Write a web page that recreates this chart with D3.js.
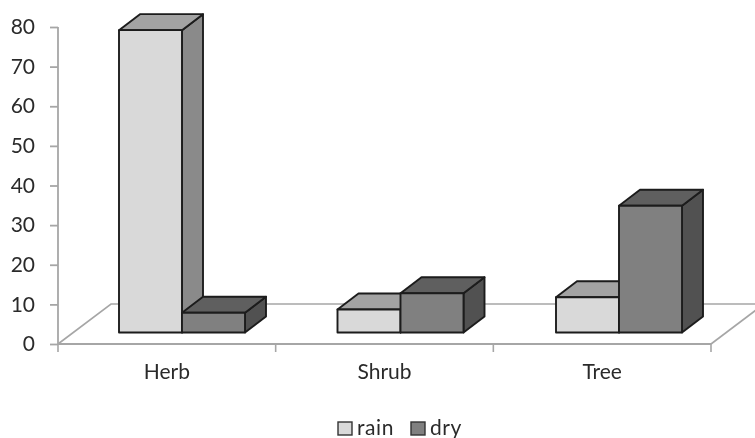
<!DOCTYPE html>
<html>
<head>
<meta charset="utf-8">
<script src="https://cdn.jsdelivr.net/npm/d3@7"></script>
<style>
    html, body { margin: 0; padding: 0; background: #fff; }
    svg { display: block; }
    text { font-family: Lato, "Open Sans", sans-serif; fill: #2b2b2b; }
</style>
</head>
<body>
<div id="chart"></div>
<script>
const categories = ["Herb", "Shrub", "Tree"];
const seriesNames = ["rain", "dry"];
const rain = [76.3, 5.8, 8.9];
const dry = [5, 9.9, 32];
const yTicks = [0, 10, 20, 30, 40, 50, 60, 70, 80];

const chartWidth = 755,
    chartHeight = 438;

const axisLeft = 58, axisRight = 711, axisBottom = 344, axisTop = 27;
const floorDx = 53, floorDy = -40;
const barDx = 21, barDy = -16;
const barBase = 332.5;

const colors = {
    rain: { front: "#d9d9d9", top: "#a3a3a3", side: "#8a8a8a" },
    dry: { front: "#808080", top: "#5f5f5f", side: "#515151" }
};

const svg = d3.select("#chart")
    .append("svg")
    .attr("width", chartWidth)
    .attr("height", chartHeight);

const soft = svg.append("defs").append("filter").attr("id", "soft");
soft.append("feGaussianBlur").attr("stdDeviation", 0.45);

const plot = svg.append("g").attr("filter", "url(#soft)");

const x = d3.scaleBand()
    .domain(categories)
    .range([axisLeft, axisRight]);

// bars sit a little off the band because of the 3d depth
const xBars = d3.scalePoint()
    .domain(categories)
    .range([119, 556]);

const xInner = d3.scaleBand()
    .domain(seriesNames)
    .range([0, 126]);

const y = d3.scaleLinear()
    .domain([0, 80])
    .range([axisBottom, axisTop]);

// floor of the 3d box
const floorColor = "#a6a6a6";
const floor = d3.line();
plot.append("path")
    .attr("d", floor([[axisLeft, axisBottom], [axisLeft + floorDx, axisBottom + floorDy], [chartWidth + 10, axisBottom + floorDy]]))
    .style("fill", "none")
    .style("stroke", floorColor)
    .style("stroke-width", 1.6);
plot.append("path")
    .attr("d", floor([[axisRight, axisBottom], [axisRight + floorDx, axisBottom + floorDy]]))
    .style("fill", "none")
    .style("stroke", floorColor)
    .style("stroke-width", 1.6);

// y axis
const yAxis = plot.append("g")
    .attr("transform", `translate(${axisLeft},0)`)
    .call(d3.axisLeft(y).tickValues(yTicks).tickSize(8).tickPadding(15));
yAxis.selectAll("path, line").style("stroke", floorColor).style("stroke-width", 1.8);
yAxis.select(".domain").attr("d", `M0,${axisTop}V${axisBottom}`);
yAxis.selectAll("text")
    .style("font-size", "21px")
    .style("font-family", "Lato, sans-serif")
    .style("fill", "#2b2b2b");

// x axis
const xAxis = plot.append("g")
    .attr("transform", `translate(0,${axisBottom})`)
    .call(d3.axisBottom(x).tickSize(0).tickPadding(20));
xAxis.select(".domain").attr("d", `M${axisLeft},0H${axisRight}`)
    .style("stroke", floorColor).style("stroke-width", 1.8);
xAxis.selectAll("text")
    .style("font-size", "21px")
    .style("font-family", "Lato, sans-serif")
    .style("fill", "#2b2b2b");
xAxis.selectAll(".edge")
    .data(categories.map(d => x(d)).concat([axisRight]))
    .enter().append("line")
    .attr("class", "edge")
    .attr("x1", d => d)
    .attr("x2", d => d)
    .attr("y1", 0)
    .attr("y2", 8)
    .style("stroke", floorColor)
    .style("stroke-width", 1.6);

// bars, back faces first so that each series overlaps the one before it
const baseDrop = y(0) - barBase;

function drawBar(cat, name, value) {
    const x0 = xBars(cat) + xInner(name);
    const x1 = x0 + xInner.bandwidth();
    const top = y(value) - baseDrop;
    const bottom = y(0) - baseDrop;
    const faces = [
        { fill: colors[name].side, pts: [[x1, top], [x1 + barDx, top + barDy], [x1 + barDx, bottom + barDy], [x1, bottom]] },
        { fill: colors[name].top, pts: [[x0, top], [x0 + barDx, top + barDy], [x1 + barDx, top + barDy], [x1, top]] },
        { fill: colors[name].front, pts: [[x0, top], [x1, top], [x1, bottom], [x0, bottom]] }
    ];
    plot.append("g")
        .selectAll("polygon")
        .data(faces)
        .enter().append("polygon")
        .attr("points", d => d.pts.join(" "))
        .style("fill", d => d.fill)
        .style("stroke", "#1c1c1c")
        .style("stroke-width", 1.9)
        .style("stroke-linejoin", "round");
}

categories.forEach((cat, i) => {
    drawBar(cat, "rain", rain[i]);
    drawBar(cat, "dry", dry[i]);
});

// legend
const legendX = d3.scaleOrdinal()
    .domain(seriesNames)
    .range([338, 411]);

const legend = plot.append("g")
    .selectAll("g")
    .data(seriesNames)
    .enter().append("g")
    .attr("transform", d => `translate(${legendX(d)},422)`);

legend.append("rect")
    .attr("width", 14)
    .attr("height", 13)
    .style("fill", d => colors[d].front)
    .style("stroke", "#333")
    .style("stroke-width", 1.4);

legend.append("text")
    .attr("x", 19)
    .attr("y", 13)
    .style("font-size", "21px")
    .style("letter-spacing", "0.6px")
    .text(d => d);
</script>
</body>
</html>
